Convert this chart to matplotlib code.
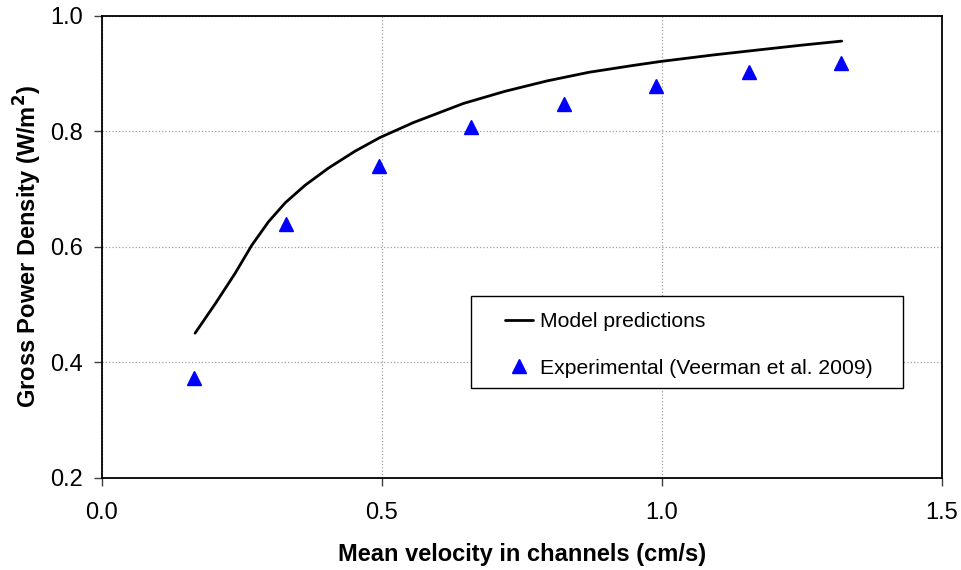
import numpy as np
import matplotlib
matplotlib.use("Agg")
import matplotlib.pyplot as plt
from matplotlib.patches import Rectangle

plt.rcParams['font.family'] = ['Liberation Sans', 'DejaVu Sans']

# model curve
model_v = [0.167, 0.203, 0.238, 0.268, 0.298, 0.328, 0.363, 0.405, 0.452, 0.497,
           0.557, 0.646, 0.72, 0.795, 0.87, 0.95, 1.0, 1.092, 1.175, 1.25, 1.321]
model_p = [0.450, 0.501, 0.553, 0.602, 0.643, 0.676, 0.706, 0.736, 0.765, 0.789,
           0.815, 0.848, 0.869, 0.887, 0.902, 0.914, 0.921, 0.932, 0.941, 0.949, 0.956]

# experimental points (Veerman et al. 2009)
exp_v = [0.165, 0.33, 0.495, 0.66, 0.825, 0.99, 1.155, 1.32]
exp_p = [0.373, 0.639, 0.739, 0.807, 0.847, 0.878, 0.902, 0.918]

x_ticks = [0.0, 0.5, 1.0, 1.5]
y_ticks = [0.2, 0.4, 0.6, 0.8, 1.0]

fig = plt.figure(figsize=(9.62, 5.70), dpi=100)
ax = fig.add_axes([101.5 / 962, 1 - 477.5 / 570, (942 - 101.5) / 962, (477.5 - 15.7) / 570])

ax.plot(model_v, model_p, color='black', linewidth=2.0, label='Model predictions',
        solid_joinstyle='round', solid_capstyle='round', zorder=3)
ax.plot(exp_v, exp_p, linestyle='none', marker='^', markersize=10, color='#0000ff',
        markeredgecolor='#0000ff', label='Experimental (Veerman et al. 2009)', zorder=3)

ax.set_xlim(0, 1.5)
ax.set_ylim(0.2, 1.0)
ax.set_xticks(x_ticks)
ax.set_yticks(y_ticks)
ax.set_xticklabels(['%.1f' % t for t in x_ticks])
ax.set_yticklabels(['%.1f' % t for t in y_ticks])
ax.tick_params(direction='out', length=5.5, width=1, colors='#404040', labelcolor='black',
               labelsize=17)
ax.tick_params(axis='x', pad=12)
ax.tick_params(axis='y', pad=8)

ax.grid(True, color='#a0a0a0', linestyle=':', linewidth=0.9)
ax.set_axisbelow(True)
for s in ax.spines.values():
    s.set_linewidth(1.3)
    s.set_color('black')

ax.set_xlabel('Mean velocity in channels (cm/s)', fontsize=17, fontweight='bold', labelpad=14)
ax.set_ylabel('Gross Power Density (W/m$^\\mathbf{2}$)', fontsize=17, fontweight='bold', labelpad=4)

# legend box drawn separately so the side padding can be wider than the top/bottom
x0 = (470.7 - 101.5) / (942 - 101.5)
x1 = (903 - 101.5) / (942 - 101.5)
y0 = (477.5 - 388) / (477.5 - 15.7)
y1 = (477.5 - 295.7) / (477.5 - 15.7)
ax.add_patch(Rectangle((x0, y0), x1 - x0, y1 - y0, transform=ax.transAxes,
                       facecolor='white', edgecolor='black', linewidth=1.0, zorder=4))
leg = ax.legend(loc='center', bbox_to_anchor=((x0 + x1) / 2 + 0.002, (y0 + y1) / 2 - 0.007),
                fontsize=15.2, frameon=False, handlelength=1.35, borderaxespad=0,
                labelspacing=1.3, borderpad=0, handletextpad=0.3)
leg.set_zorder(5)

fig.savefig('out.png', dpi=100)
